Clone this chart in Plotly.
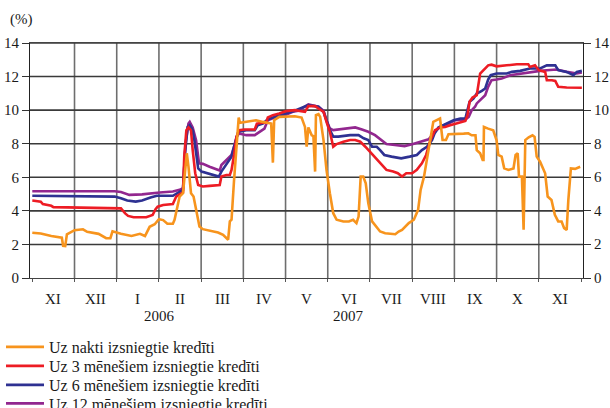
import plotly.graph_objects as go

# x positions are in months counted from the start of XI (0 = start of first XI)
month_labels = ["XI", "XII", "I", "II", "III", "IV", "V", "VI", "VII", "VIII", "IX", "X", "XI"]
year_labels = ["2006", "2007"]
year_pos = [3.02, 7.5]
y_ticks = [0, 2, 4, 6, 8, 10, 12, 14]

names = ["Uz nakti izsniegtie kredīti", "Uz 3 mēnešiem izsniegtie kredīti",
         "Uz 6 mēnešiem izsniegtie kredīti", "Uz 12 mēnešiem izsniegtie kredīti"]
colors = ["#F7941D", "#ED1C24", "#2E3192", "#92278F"]

x_overnight = [0.0, 0.2, 0.45, 0.6, 0.7, 0.73, 0.78, 0.82, 1.0, 1.2, 1.3, 1.57, 1.75, 1.85, 1.9, 2.1,
               2.35, 2.55, 2.67, 2.78, 2.9, 3.0, 3.1, 3.2, 3.33, 3.37, 3.42, 3.49, 3.57, 3.6, 3.66,
               3.7, 3.76, 3.82, 3.88, 3.96, 4.04, 4.16, 4.28, 4.4, 4.52, 4.64, 4.68, 4.72, 4.78,
               4.84, 4.89, 4.92, 5.07, 5.3, 5.46, 5.6, 5.66, 5.7, 5.73, 5.85, 6.1, 6.22, 6.38,
               6.46, 6.5, 6.54, 6.62, 6.66, 6.7, 6.72, 6.78, 6.82, 6.9, 6.97, 7.05, 7.13, 7.21,
               7.37, 7.5, 7.6, 7.68, 7.73, 7.78, 7.84, 7.9, 7.96, 8.05, 8.15, 8.24, 8.36, 8.6,
               8.68, 8.76, 8.92, 9.04, 9.14, 9.2, 9.28, 9.36, 9.44, 9.5, 9.58, 9.66, 9.72, 9.8,
               9.86, 10.06, 10.22, 10.33, 10.41, 10.5, 10.53, 10.61, 10.67, 10.69, 10.7, 10.8,
               10.92, 11.0, 11.04, 11.12, 11.18, 11.28, 11.4, 11.45, 11.5, 11.53, 11.6, 11.64,
               11.68, 11.76, 11.85, 11.9, 11.95, 12.03, 12.15, 12.21, 12.3, 12.38, 12.46, 12.54,
               12.6, 12.66, 12.7, 12.76, 12.86, 12.98]
y_overnight = [2.7, 2.65, 2.5, 2.45, 2.4, 1.92, 1.9, 2.6, 2.85, 2.9, 2.75, 2.63, 2.37, 2.37, 2.78, 2.63,
               2.5, 2.63, 2.5, 3.05, 3.2, 3.5, 3.45, 3.23, 3.23, 3.47, 4.06, 4.85, 5.05, 5.84, 7.43,
               6.63, 5.05, 4.85, 4.06, 3.07, 2.91, 2.83, 2.77, 2.71, 2.57, 2.28, 3.37, 3.47, 5.84,
               8.2, 9.56, 9.25, 9.3, 9.4, 9.3, 9.25, 9.2, 6.87, 9.4, 9.6, 9.64, 9.64, 9.56,
               9.0, 7.82, 8.97, 8.5, 8.45, 6.34, 9.7, 9.76, 9.6, 8.2, 6.44, 5.05, 3.86, 3.47,
               3.37, 3.37, 3.47, 3.27, 3.66, 6.04, 6.04, 5.64, 4.46, 3.37, 3.07, 2.77, 2.67, 2.61,
               2.77, 2.87, 3.27, 3.47, 4.06, 5.25, 6.04, 7.23, 8.6, 9.3, 9.4, 9.5, 8.22, 8.22,
               8.57, 8.57, 8.6, 8.62, 8.5, 8.5, 7.62, 7.43, 7.03, 7.03, 9.0, 8.9,
               8.8, 8.2, 7.33, 7.23, 6.53, 6.44, 6.53, 7.33, 7.43, 6.04, 6.04, 2.87,
               8.22, 8.38, 8.5, 8.4, 7.23, 6.93, 6.24, 4.85, 4.65, 3.76, 3.37, 3.37,
               2.97, 2.87, 4.65, 6.53, 6.5, 6.63]

x_3m = [0.0, 0.2, 0.25, 0.45, 0.5, 1.0, 1.5, 1.95, 2.1, 2.2, 2.27, 2.4, 2.7, 2.85, 2.92, 2.97, 3.1,
        3.33, 3.41, 3.5, 3.57, 3.6, 3.65, 3.7, 3.76, 3.8, 3.86, 3.93, 4.04, 4.2, 4.36, 4.44, 4.48,
        4.6, 4.68, 4.72, 4.78, 4.84, 4.9, 5.03, 5.27, 5.32, 5.46, 5.54, 5.58, 5.7, 5.85, 6.01, 6.22,
        6.46, 6.54, 6.7, 6.78, 6.9, 6.97, 7.05, 7.13, 7.21, 7.37, 7.53, 7.65, 7.77, 7.89, 7.96,
        8.04, 8.15, 8.27, 8.39, 8.55, 8.66, 8.76, 8.86, 9.0, 9.11, 9.23, 9.33, 9.43, 9.54, 9.66,
        9.78, 9.9, 10.14, 10.26, 10.31, 10.36, 10.43, 10.53, 10.61, 10.69, 10.8, 10.88, 11.0,
        11.24, 11.48, 11.75, 11.79, 11.91, 12.0, 12.15, 12.19, 12.31, 12.39, 12.46, 12.66, 13.02]
y_3m = [4.62, 4.55, 4.4, 4.3, 4.22, 4.2, 4.2, 4.2, 4.15, 3.85, 3.7, 3.62, 3.62, 3.75, 4.1, 4.25, 4.35,
        4.4, 4.85, 5.0, 5.09, 7.23, 8.8, 8.97, 8.8, 7.62, 6.24, 5.54, 5.45, 5.49, 5.54, 5.54, 6.04,
        6.14, 6.14, 6.44, 7.33, 8.42, 8.8, 8.85, 8.85, 9.2, 9.25, 9.25, 9.56, 9.7, 9.8, 9.94, 10.0,
        9.9, 10.24, 10.24, 10.1, 9.9, 9.3, 8.71, 7.82, 7.98, 8.12, 8.22, 8.22, 8.12, 7.82, 7.62,
        7.43, 7.13, 6.73, 6.44, 6.34, 6.24, 6.04, 6.24, 6.24, 6.44, 6.83, 7.33, 8.2, 8.8, 8.97,
        9.0, 9.1, 9.3, 9.36, 9.7, 10.5, 10.75, 10.89, 12.18, 12.38, 12.67, 12.71, 12.61,
        12.67, 12.73, 12.73, 12.57, 12.67, 12.38, 12.28, 11.78, 11.78, 11.74, 11.39, 11.35, 11.33]

x_6m = [0.0, 1.0, 1.95, 2.1, 2.25, 2.45, 2.6, 2.8, 2.95, 3.33, 3.45, 3.57, 3.62, 3.68, 3.73, 3.8,
        3.84, 3.93, 4.01, 4.2, 4.42, 4.48, 4.56, 4.72, 4.78, 4.88, 5.07, 5.27, 5.34, 5.46, 5.58,
        5.78, 6.0, 6.2, 6.54, 6.78, 6.9, 6.97, 7.05, 7.13, 7.25, 7.53, 7.73, 7.85, 7.96, 8.05,
        8.16, 8.24, 8.34, 8.51, 8.74, 8.94, 9.11, 9.23, 9.35, 9.47, 9.53, 9.62, 9.82, 9.98, 10.14,
        10.26, 10.31, 10.36, 10.45, 10.53, 10.65, 10.73, 10.8, 10.86, 11.0, 11.24, 11.36, 11.56,
        11.79, 12.03, 12.19, 12.39, 12.46, 12.66, 12.82, 12.9, 13.02]
y_6m = [4.9, 4.88, 4.85, 4.75, 4.62, 4.55, 4.62, 4.8, 4.9, 4.9, 5.05, 5.25, 7.5, 9.0, 9.1, 8.8,
        8.2, 6.53, 6.34, 6.18, 6.04, 6.34, 6.63, 7.23, 7.82, 8.71, 8.8, 8.8, 9.1, 9.2, 9.45,
        9.64, 9.8, 9.95, 10.3, 10.2, 9.9, 9.4, 8.81, 8.42, 8.42, 8.51, 8.51, 8.32, 8.22, 7.82,
        7.82, 7.62, 7.33, 7.23, 7.13, 7.23, 7.33, 7.62, 7.82, 8.22, 8.61, 8.97, 9.2, 9.4, 9.5,
        9.5, 10.0, 10.5, 10.69, 10.99, 11.15, 11.29, 11.82, 12.08, 12.18, 12.18, 12.28, 12.34,
        12.48, 12.48, 12.67, 12.67, 12.38, 12.28, 12.08, 12.28, 12.34]

x_12m = [0.0, 1.0, 1.95, 2.1, 2.25, 2.3, 2.6, 2.8, 3.02, 3.33, 3.49, 3.57, 3.63, 3.7, 3.73, 3.8,
         3.88, 3.95, 4.04, 4.2, 4.36, 4.44, 4.48, 4.56, 4.64, 4.72, 4.78, 4.84, 4.9, 5.07, 5.27,
         5.38, 5.5, 5.58, 5.78, 5.98, 6.17, 6.3, 6.54, 6.78, 6.9, 6.97, 7.05, 7.13, 7.41, 7.65,
         7.81, 7.96, 8.12, 8.27, 8.39, 8.59, 8.82, 9.02, 9.23, 9.39, 9.5, 9.66, 9.86, 10.02,
         10.26, 10.34, 10.41, 10.49, 10.53, 10.61, 10.73, 10.8, 10.88, 11.0, 11.12, 11.32, 11.56,
         11.79, 12.03, 12.19, 12.42, 12.66, 12.9, 13.02]
y_12m = [5.17, 5.17, 5.17, 5.12, 5.0, 4.95, 4.98, 5.05, 5.09, 5.15, 5.25, 5.35, 8.0, 9.2, 9.3, 8.97,
         8.2, 6.83, 6.8, 6.63, 6.48, 6.4, 6.73, 6.93, 7.19, 7.33, 7.82, 8.42, 8.61, 8.51, 8.51,
         8.71, 8.9, 9.4, 9.6, 9.7, 9.9, 9.96, 10.34, 10.2, 9.96, 9.4, 8.91, 8.81, 8.91, 8.97,
         8.85, 8.71, 8.51, 8.22, 7.98, 7.92, 7.86, 7.98, 8.12, 8.26, 8.6, 9.0, 9.2, 9.4,
         9.45, 9.6, 10.0, 10.2, 10.4, 10.6, 10.89, 11.39, 11.78, 11.82, 11.88, 12.08, 12.18,
         12.28, 12.34, 12.38, 12.42, 12.28, 12.18, 12.24]

series_x = [x_overnight, x_3m, x_6m, x_12m]
series_y = [y_overnight, y_3m, y_6m, y_12m]

FONT = "Liberation Serif, Times New Roman, serif"
TXT = "#1a1a1a"
x_range = [-0.0545, 13.047]
y_range = [y_ticks[0], y_ticks[-1]]
n_months = len(month_labels)

W, H = 610, 408
M_L, M_R, M_T, M_B = 30, 27, 43, 130
plot_h = H - M_T - M_B
plot_w = W - M_L - M_R


def paper_y(px):
    return (H - M_B - px) / plot_h


def paper_x(px):
    return (px - M_L) / plot_w


fig = go.Figure()

# grid lines, built from the tick values and month boundaries (drawn beneath the data)
gh_x, gh_y = [], []
for v in y_ticks[1:]:
    gh_x += [x_range[0], x_range[1], None]
    gh_y += [v, v, None]
gv_x, gv_y = [], []
for b in range(1, n_months):
    gv_x += [b, b, None]
    gv_y += [y_range[0], y_range[1], None]
fig.add_trace(go.Scatter(x=gv_x, y=gv_y, mode="lines", showlegend=False, hoverinfo="skip",
                         connectgaps=False, line=dict(color="#6e6e6e", width=1.6)))
fig.add_trace(go.Scatter(x=gh_x, y=gh_y, mode="lines", showlegend=False, hoverinfo="skip",
                         connectgaps=False, line=dict(color="#3a3a3a", width=1.6)))

legend_ids = ["legend", "legend2", "legend3", "legend4"]
legend_tops = [330, 349, 368, 386.5]

# draw back to front: 12m, 6m, 3m, overnight
for i in [3, 2, 1, 0]:
    fig.add_trace(go.Scatter(x=series_x[i], y=series_y[i], mode="lines", name=names[i],
                             legend=legend_ids[i],
                             line=dict(color=colors[i], width=2.6), hoverinfo="skip"))

legend_common = dict(xref="container", yref="container", x=1 / W, xanchor="left",
                     yanchor="top", font=dict(family=FONT, size=16, color=TXT), itemwidth=38,
                     bgcolor="rgba(0,0,0,0)", borderwidth=0)
legends = {lid: dict(legend_common, y=1 - top / H) for lid, top in zip(legend_ids, legend_tops)}

fig.update_layout(
    template="none",
    width=W, height=H,
    margin=dict(l=M_L, r=M_R, t=M_T, b=M_B, autoexpand=False),
    paper_bgcolor="white", plot_bgcolor="white",
    font=dict(family=FONT, size=15, color=TXT),
    showlegend=True,
    xaxis=dict(range=x_range, tickmode="array", tickvals=list(range(0, n_months + 1)),
               ticks="outside", ticklen=3, tickcolor="#555", tickwidth=1, showticklabels=False,
               showgrid=False, zeroline=False, showline=True, mirror=True,
               linecolor="#444", linewidth=1),
    yaxis=dict(range=y_range, tickmode="array", tickvals=y_ticks, ticks="outside", ticklen=7,
               tickcolor="#333", tickwidth=1, showgrid=False,
               zeroline=False, showline=True, linecolor="#222", linewidth=1, mirror="ticks",
               tickfont=dict(family=FONT, size=15, color=TXT)),
    **legends,
)

for i, lbl in enumerate(month_labels):
    fig.add_annotation(text=lbl, x=i + 0.5, xref="x", y=paper_y(298.5), yref="paper",
                       showarrow=False, xanchor="center", yanchor="middle",
                       font=dict(family=FONT, size=15, color=TXT))
for lbl, pos in zip(year_labels, year_pos):
    fig.add_annotation(text=lbl, x=pos, xref="x", y=paper_y(316), yref="paper", showarrow=False,
                       xanchor="center", yanchor="middle", font=dict(family=FONT, size=15, color=TXT))
# right-hand value labels
for v in y_ticks:
    fig.add_annotation(text=str(v), x=1, xref="paper", y=v, yref="y", showarrow=False,
                       xanchor="left", yanchor="middle", xshift=10, borderpad=0,
                       font=dict(family=FONT, size=15, color=TXT))
fig.add_annotation(text="(%)", x=paper_x(21), xref="paper", y=paper_y(19.5),
                   yref="paper", showarrow=False, xanchor="center", yanchor="middle",
                   font=dict(family=FONT, size=15, color=TXT))

fig.write_html("out.html", config={"displayModeBar": False},
               post_script="document.body.style.margin='0px';")
